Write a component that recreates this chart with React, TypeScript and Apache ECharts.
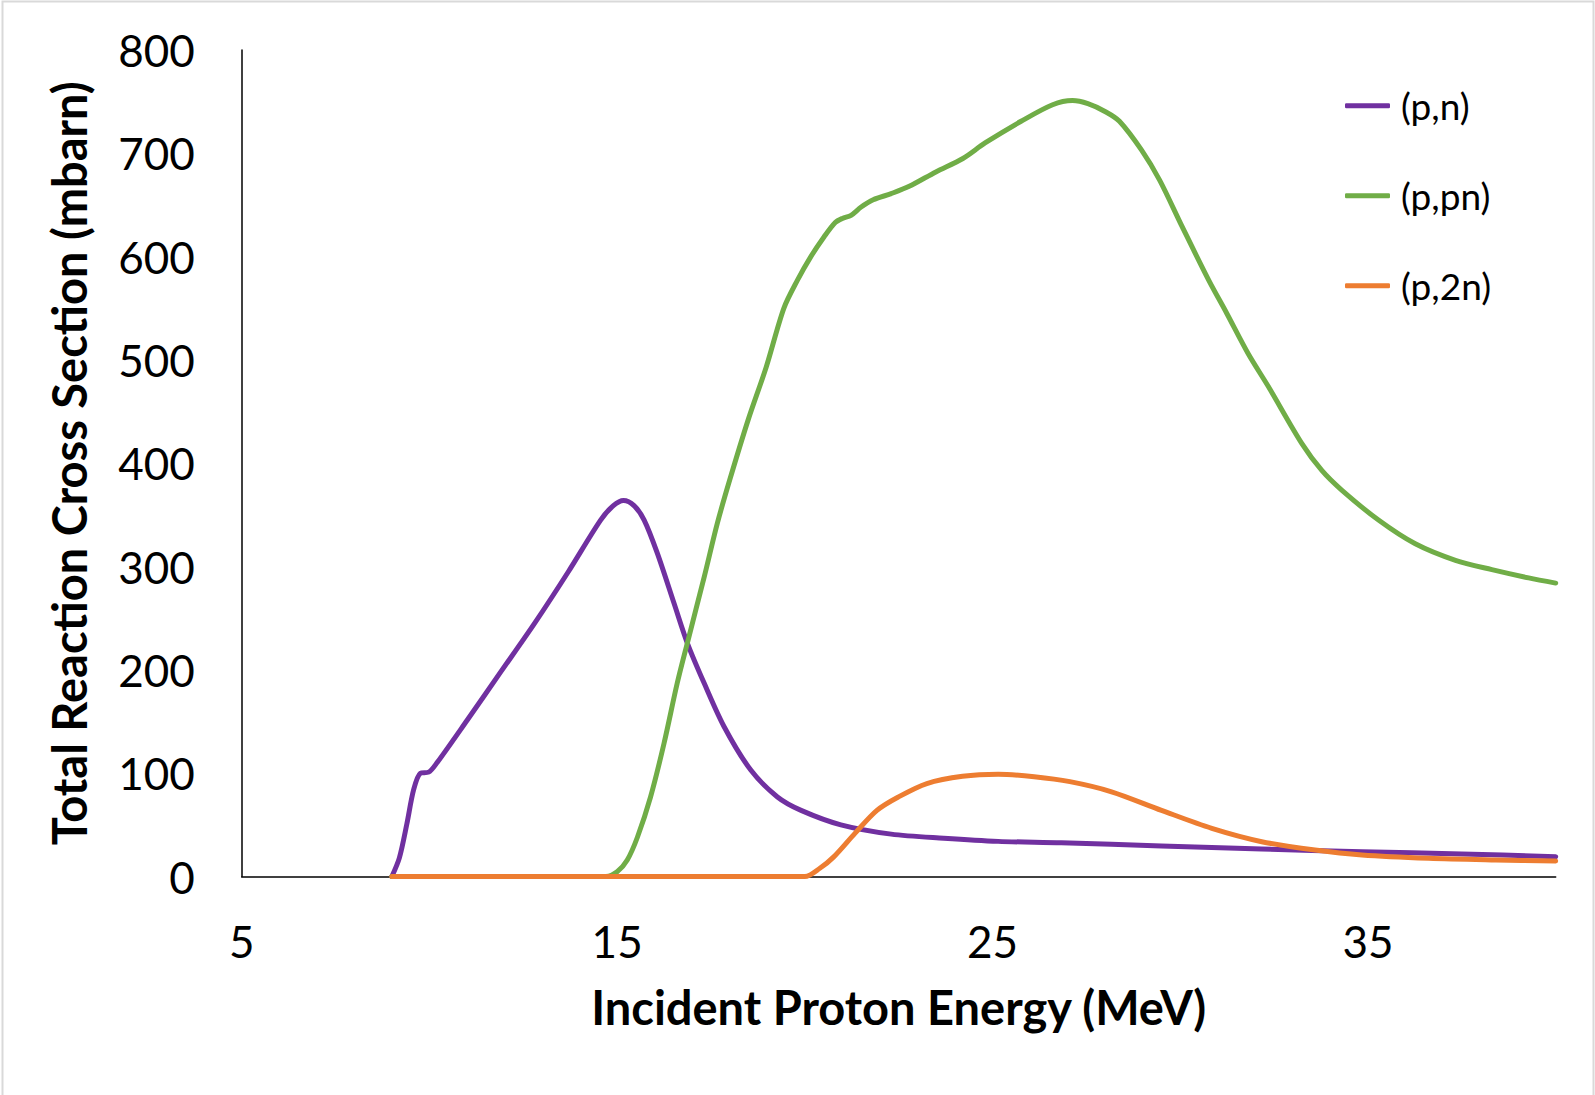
import React, { useEffect, useRef } from "react";
import * as echarts from "echarts";

// (p,n)
const pnEnergy = [9.0, 9.2, 9.4, 9.58, 9.76, 9.98, 10.2, 11.0, 11.9, 12.8, 13.7, 14.56, 14.9, 15.17, 15.45, 15.72, 16.07, 16.52, 16.87, 17.32, 17.85, 18.56, 19.27, 19.9, 20.96, 22.3, 23.7, 25.15, 26.83, 29.5, 32.17, 34.84, 37.5, 40];
const pnValues = [0, 18, 51, 84, 100, 101, 110, 151, 198, 245, 295, 345, 359, 364, 359, 345, 313, 264, 226, 187, 145, 103, 77, 64, 50, 41, 37, 34, 32.7, 29.5, 26.6, 24, 21.8, 19.2];

// (p,pn)
const ppnEnergy = [9, 14.7, 15.0, 15.27, 15.54, 15.89, 16.25, 16.6, 16.87, 17.32, 17.67, 18.0, 18.49, 18.97, 19.44, 19.8, 20.16, 20.51, 20.81, 21.0, 21.23, 21.5, 21.82, 22.3, 22.78, 23.49, 24.21, 24.8, 25.76, 26.6, 27.13, 27.54, 28.02, 28.38, 28.97, 29.45, 30.05, 30.76, 31.24, 31.81, 32.35, 33.24, 33.77, 34.3, 35.28, 36.26, 37.33, 38.3, 39.28, 40];
const ppnValues = [0, 0, 4.6, 16, 38, 77, 129, 187, 226, 290, 342, 384, 442, 493, 550, 577, 600, 619, 633, 637, 640, 648, 655, 661, 668, 682, 695, 710, 731, 747, 751, 748, 740, 731, 703, 674, 629, 577, 545, 506, 474, 419, 393, 374, 345, 322, 306, 297, 289, 284];

// (p,2n)
const p2nEnergy = [9, 20.0, 20.4, 20.77, 21.34, 21.92, 22.49, 23.25, 24.2, 25.15, 26.11, 27.06, 28.17, 29.5, 30.84, 32.17, 33.59, 34.84, 36.62, 38.4, 40];
const p2nValues = [0, 0, 8, 19, 42, 64, 77, 90, 97, 99, 96.6, 91.8, 82, 64, 46.6, 33.7, 25.6, 20.8, 17.6, 16, 15];

const seriesNames = ["(p,n)", "(p,pn)", "(p,2n)"];
const seriesColors = ["#7030A0", "#70AD47", "#ED7D31"];
const xTickValues = [5, 15, 25, 35];

const pairs = (xs: number[], ys: number[]) => xs.map((x, i) => [x, ys[i]]);

export default function App() {
  const ref = useRef<HTMLDivElement>(null);
  useEffect(() => {
    if (!ref.current) return;
    const chart = echarts.init(ref.current, null, { renderer: "svg" });
    const font = "Lato";
    const datasets = [pairs(pnEnergy, pnValues), pairs(ppnEnergy, ppnValues), pairs(p2nEnergy, p2nValues)];
    chart.setOption({
      animation: false,
      backgroundColor: "#ffffff",
      graphic: [
        {
          type: "rect",
          shape: { x: 2.5, y: 1.5, width: 1591, height: 1200 },
          style: { fill: "none", stroke: "#D9D9D9", lineWidth: 2 },
          silent: true,
        },
      ],
      grid: { left: 241.7, right: 39.3, top: 50, bottom: 218.5, containLabel: false },
      legend: {
        orient: "vertical",
        left: 1345,
        top: 85.7,
        padding: 0,
        icon: "roundRect",
        itemWidth: 45,
        itemHeight: 5,
        itemGap: 50,
        textStyle: { fontFamily: font, fontSize: 37, color: "#000", lineHeight: 40, padding: [0, 0, 0, 6] },
        data: seriesNames,
      },
      xAxis: {
        type: "value",
        min: 5,
        max: 40,
        name: "Incident Proton Energy (MeV)",
        nameLocation: "middle",
        nameGap: 107,
        nameTextStyle: { fontFamily: font, fontSize: 47, fontWeight: "bold", color: "#000" },
        axisLine: { show: true, lineStyle: { color: "#000", width: 1.5 } },
        axisTick: { show: false },
        splitLine: { show: false },
        axisLabel: {
          customValues: xTickValues,
          fontFamily: font,
          fontSize: 44,
          color: "#000",
          margin: 42,
        },
      },
      yAxis: {
        type: "value",
        min: 0,
        max: 800,
        interval: 100,
        name: "Total Reaction Cross Section (mbarn)",
        nameLocation: "middle",
        nameGap: 149,
        nameTextStyle: { fontFamily: font, fontSize: 47, fontWeight: "bold", color: "#000" },
        axisLine: { show: true, lineStyle: { color: "#000", width: 1.5 } },
        axisTick: { show: false },
        splitLine: { show: false },
        axisLabel: { fontFamily: font, fontSize: 44, color: "#000", margin: 47 },
      },
      series: datasets.map((d, i) => ({
        name: seriesNames[i],
        type: "line",
        data: d,
        smooth: 0.3,
        symbol: "none",
        color: seriesColors[i],
        lineStyle: { color: seriesColors[i], width: 5, cap: "round", join: "round" },
        z: 2 + i,
      })),
    });
    return () => chart.dispose();
  }, []);
  return <div ref={ref} style={{ position: "absolute", left: 0, top: 0, width: 1595, height: 1095 }} />;
}
